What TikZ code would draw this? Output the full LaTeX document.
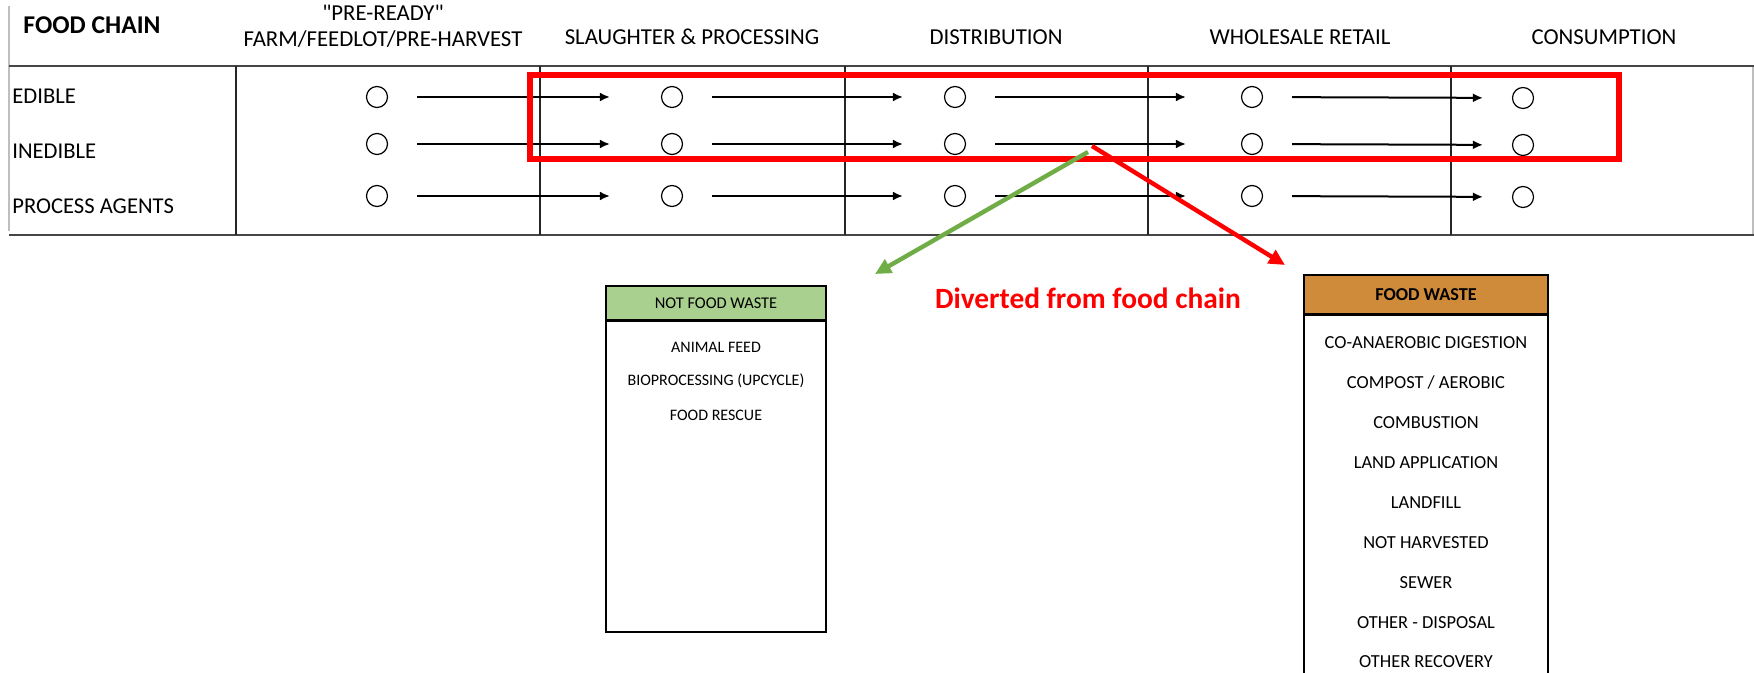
\documentclass[tikz,border=0pt]{standalone}
\usepackage{fontspec}
\setmainfont{Carlito}[Ligatures=TeXOff]
\usetikzlibrary{arrows.meta}
\definecolor{tgreen}{RGB}{112,173,71}
\definecolor{hgreen}{RGB}{169,208,142}
\definecolor{horange}{RGB}{207,138,58}
\definecolor{tred}{RGB}{255,0,0}
\definecolor{gridc}{RGB}{70,70,70}
\definecolor{edgec}{RGB}{190,190,190}
\begin{document}
\begin{tikzpicture}[x=0.5pt,y=-0.5pt,
  gridline/.style={draw=gridc,line width=1pt},
  colline/.style={draw=black!85,line width=0.6pt},
  ring/.style={circle,draw,line width=0.6pt,minimum size=10.5pt,inner sep=0pt},
  flow/.style={line width=1pt,-{Latex[length=5pt,width=4.5pt]},shorten <=14.5pt},
  hdr/.style={font=\fontsize{11.4}{12}\selectfont,align=center,inner sep=0pt},
  rowlbl/.style={font=\fontsize{11.3}{12}\selectfont,anchor=west,inner sep=0pt},
  item/.style={inner sep=0pt},
  divert/.style={line width=2.2pt,-{Triangle[length=8pt,width=7.5pt]}}
]
\useasboundingbox (0,0) rectangle (1754,673);

% table frame
\draw[edgec,line width=0.8pt] (9,6) -- (9,231);
\draw[edgec,line width=0.8pt] (1753,66) -- (1753,235);
\draw[gridline] (9,66) -- (1754,66);
\draw[gridline] (9,235) -- (1754,235);
\foreach \x in {236,540,845,1148,1451} \draw[colline] (\x,66) -- (\x,235);

% headers
\node[font=\bfseries\fontsize{12.8}{14}\selectfont,inner sep=0pt] (fc) at (92,25) {FOOD CHAIN};
\node[hdr] (h1) at (383,26) {"PRE-READY"\\[1pt]FARM/FEEDLOT/PRE-HARVEST};
\node[hdr] (h2) at (692,37) {SLAUGHTER \& PROCESSING};
\node[hdr] (h3) at (996,37) {DISTRIBUTION};
\node[hdr] (h4) at (1300,37) {WHOLESALE RETAIL};
\node[hdr] (h5) at (1604,37) {CONSUMPTION};

% row labels
\node[rowlbl] (r1) at (12,96) {EDIBLE};
\node[rowlbl] (r2) at (12,151) {INEDIBLE};
\node[rowlbl] (r3) at (12,206) {PROCESS AGENTS};

% circles
\foreach \r/\y in {1/97,2/144,3/196}{
  \node[ring] (c\r1) at (377,\y) {};
  \node[ring] (c\r2) at (672,\y) {};
  \node[ring] (c\r3) at (955,\y) {};
  \node[ring] (c\r4) at (1252,\y) {};
  \node[ring] (c\r5) at (1523,\y+1) {};
  \draw[flow,shorten >=25.5pt] (c\r1) -- (c\r2);
  \draw[flow,shorten >=20.5pt] (c\r2) -- (c\r3);
  \draw[flow,shorten >=27.5pt] (c\r3) -- (c\r4);
  \draw[flow,shorten >=14.5pt] (c\r4) -- (c\r5);
}

% red highlight rectangle
\draw[tred,line width=2.6pt] (530,75) rectangle (1619,159);

% diversion arrows
\coordinate (gstart) at (1088,152);
\coordinate (gend) at (875,274);
\coordinate (rstart) at (1092,146);
\coordinate (rend) at (1285,265);
\draw[divert,tgreen] (gstart) -- (gend);
\draw[divert,tred] (rstart) -- (rend);

\node[text=tred,font=\bfseries\fontsize{14.7}{16}\selectfont,inner sep=0pt] (dv) at (1088,298) {Diverted from food chain};

% NOT FOOD WASTE box
\draw[line width=0.9pt] (606,286) rectangle (826,632);
\node[draw,line width=0.9pt,fill=hgreen,minimum width=110pt,minimum height=17pt,inner sep=0pt,
      font=\fontsize{8.2}{9}\selectfont] (nfw) at (716,303) {NOT FOOD WASTE};
\draw[line width=1.3pt] (nfw.south west) -- (nfw.south east);
\begin{scope}[every node/.style={item,font=\fontsize{8}{9}\selectfont}]
\node (n1) at (716,347) {ANIMAL FEED};
\node (n2) at (716,381) {BIOPROCESSING (UPCYCLE)};
\node (n3) at (716,415) {FOOD RESCUE};
\end{scope}

% FOOD WASTE box
\draw[line width=0.9pt] (1304,676) -- (1304,275) -- (1548,275) -- (1548,676);
\node[draw,line width=0.9pt,fill=horange,minimum width=122pt,minimum height=19.5pt,inner sep=0pt,
      font=\bfseries\fontsize{9.1}{10}\selectfont] (fw) at (1426,294.5) {FOOD WASTE};
\draw[line width=1.3pt] (fw.south west) -- (fw.south east);
\begin{scope}[every node/.style={item,font=\fontsize{9.2}{10}\selectfont}]
\node (w1) at (1426,343) {CO-ANAEROBIC DIGESTION};
\node (w2) at (1426,383) {COMPOST / AEROBIC};
\node (w3) at (1426,423) {COMBUSTION};
\node (w4) at (1426,463) {LAND APPLICATION};
\node (w5) at (1426,503) {LANDFILL};
\node (w6) at (1426,543) {NOT HARVESTED};
\node (w7) at (1426,583) {SEWER};
\node (w8) at (1426,623) {OTHER - DISPOSAL};
\node (w9) at (1426,662) {OTHER RECOVERY};
\end{scope}
\end{tikzpicture}
\end{document}
